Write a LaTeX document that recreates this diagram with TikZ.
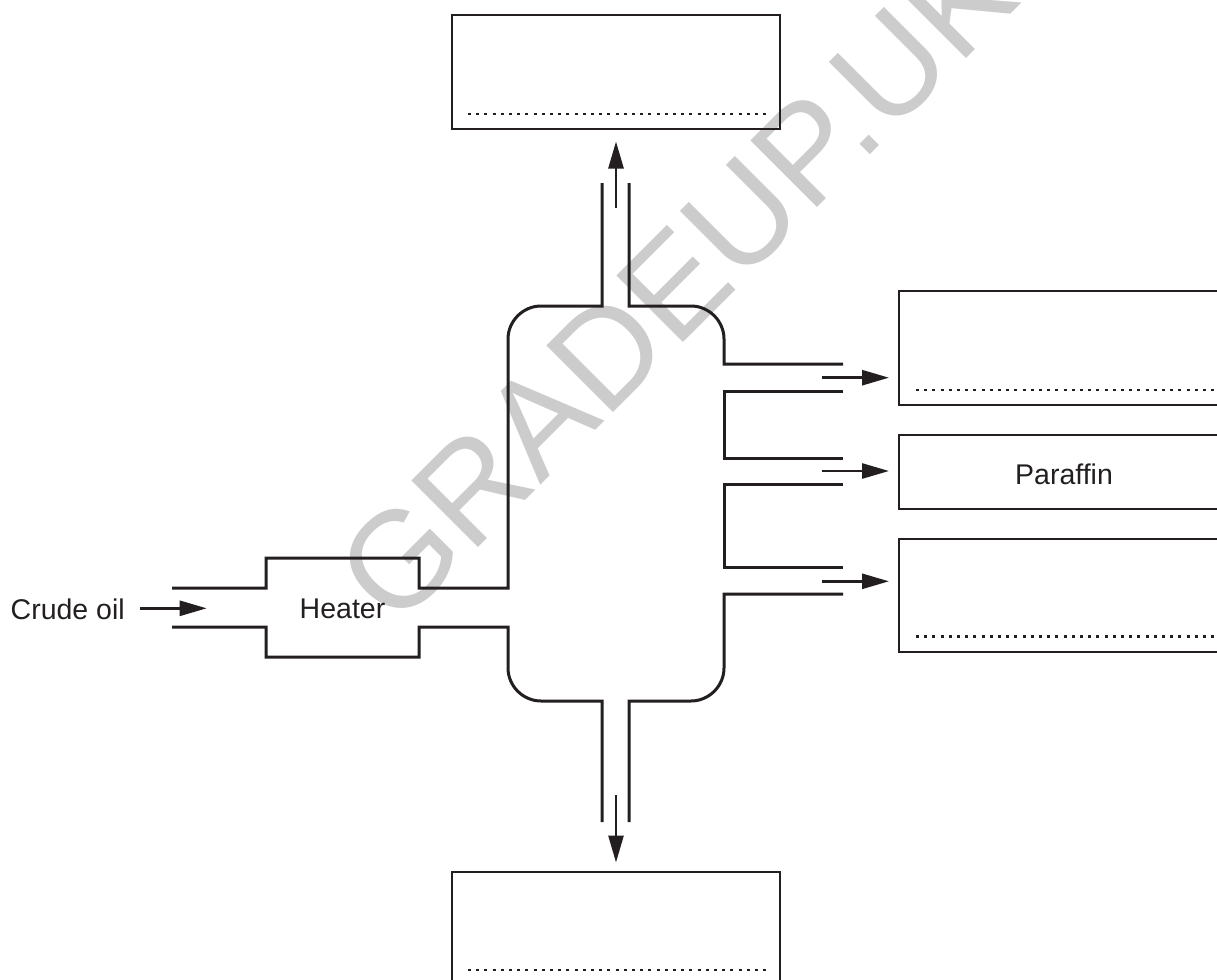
\documentclass[tikz,border=0pt]{standalone}
\usepackage{fontspec}
\setmainfont{Liberation Sans}
\usetikzlibrary{arrows.meta}
\definecolor{ink}{HTML}{231F20}
\definecolor{wm}{RGB}{204,204,204}
\begin{document}
\begin{tikzpicture}[x=1pt,y=-1pt,
  pipe/.style={draw=ink,line width=3pt,line join=miter},
  answerbox/.style={draw=ink,line width=2.5pt,minimum width=328pt,inner sep=0pt,outer sep=0pt},
  blank/.style={draw=ink,line width=2.9pt,dash pattern=on 2.9pt off 5.3pt},
  flow/.style={draw=ink,line width=2.7pt,-{Triangle[length=27pt,width=15pt]}},
  lbl/.style={font=\fontsize{28.5}{30}\selectfont,text=ink,inner sep=0pt},
  watermark/.style={font=\fontsize{137}{137}\selectfont,text=wm,inner sep=0pt,rotate=45}
]
\useasboundingbox (0,0) rectangle (1217,979);
\clip (0,0) rectangle (1217,979);
\fill[white] (0,0) rectangle (1217,979);

% watermark
\node[watermark] (wmark) at (676,283) {GRADEUP.UK};

% answer boxes
\node[answerbox,minimum height=114pt] (top) at (616,72) {};
\node[answerbox,minimum height=114pt] (bottom) at (616,929) {};
\node[answerbox,minimum height=114pt] (right1) at (1063,348) {};
\node[answerbox,minimum height=74pt] (right2) at (1063,472) {};
\node[answerbox,minimum height=113pt] (right3) at (1063,595.5) {};

% answer blanks
\draw[blank] (468,114) -- (766,114);
\draw[blank] (468,970) -- (766,970);
\draw[blank] (916,390) -- (1217,390);
\draw[blank] (916,636.5) -- (1217,636.5);

% column and pipes
\draw[pipe] (602,183) -- (602,306) -- (541,306)
  .. controls (523,306) and (508,321) .. (508,339)
  -- (508,588) -- (419,588) -- (419,558) -- (266,558) -- (266,588) -- (172,588);
\draw[pipe] (629,183) -- (629,306) -- (691,306)
  .. controls (709,306) and (724,321) .. (724,339)
  -- (724,364) -- (843,364);
\draw[pipe] (843,391) -- (724,391) -- (724,458) -- (843,458);
\draw[pipe] (843,484) -- (724,484) -- (724,567) -- (843,567);
\draw[pipe] (843,594) -- (724,594) -- (724,668)
  .. controls (724,686) and (709,701) .. (691,701)
  -- (629,701) -- (629,822);
\draw[pipe] (172,627) -- (266,627) -- (266,657) -- (419,657) -- (419,627) -- (508,627)
  -- (508,668) .. controls (508,686) and (523,701) .. (541,701)
  -- (602,701) -- (602,822);

% labels
\node[lbl,anchor=base west] (crude) at (10.5,619) {Crude oil};
\node[lbl,anchor=base] (heater) at (342.5,618.5) {Heater};
\node[lbl,anchor=base] (paraffin) at (1064,484) {Paraffin};

% flow arrows
\coordinate (crudefrom) at (140,608.3);
\coordinate (crudeto) at (206.7,608.3);
\draw[flow] (crudefrom) -- (crudeto);
\coordinate (upfrom) at (616,208);
\draw[flow,shorten >=12.5pt] (upfrom) -- (top.south);
\coordinate (downfrom) at (616,795);
\draw[flow,shorten >=9.5pt] (downfrom) -- (bottom.north);
\coordinate (r1from) at (822,377.7);
\coordinate (r2from) at (822,471);
\coordinate (r3from) at (822,581.3);
\draw[flow,shorten >=10pt] (r1from) -- (r1from -| right1.west);
\draw[flow,shorten >=10pt] (r2from) -- (r2from -| right2.west);
\draw[flow,shorten >=10pt] (r3from) -- (r3from -| right3.west);
\end{tikzpicture}
\end{document}
